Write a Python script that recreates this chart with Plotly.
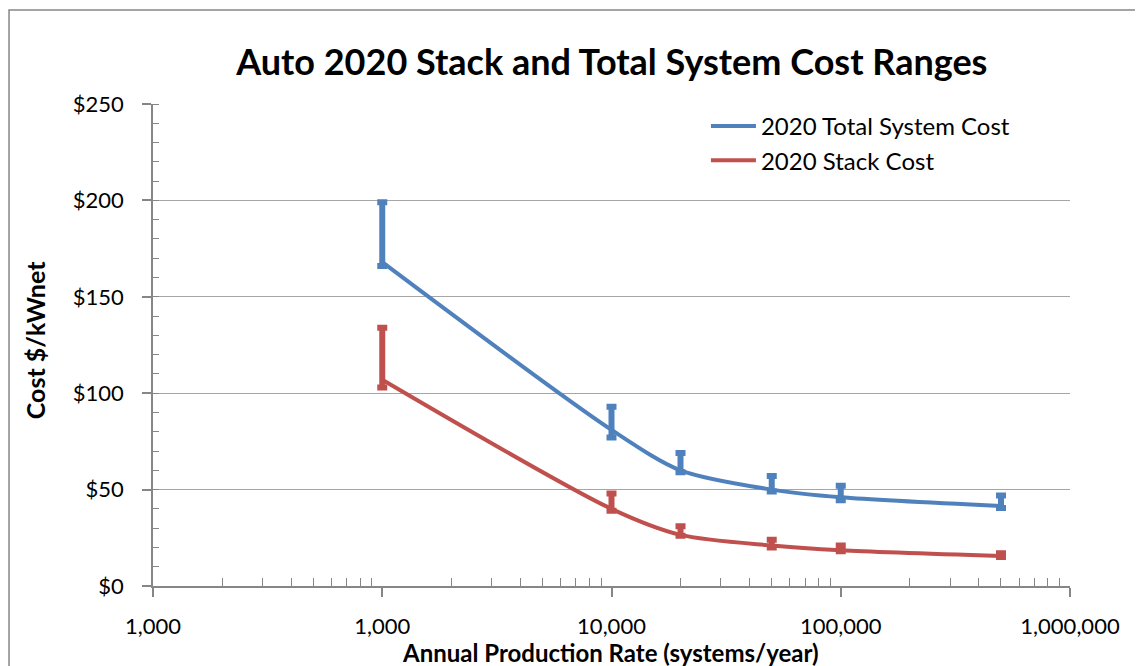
import plotly.graph_objects as go

# Data
production = [1000, 10000, 20000, 50000, 100000, 500000]
total_cost = [168, 81, 60, 50, 46, 41.5]
total_hi = [199, 93, 69, 57, 52, 47]
total_lo = [166, 77, 59, 49, 44.5, 40.5]
stack_cost = [107, 40, 26.5, 21, 18.5, 15.5]
stack_hi = [134, 48, 31, 24, 21, 17]
stack_lo = [103, 39, 26, 20, 18, 15]

x_tickvals = [100, 1000, 10000, 100000, 1000000]
x_ticktext = ["1,000", "1,000", "10,000", "100,000", "1,000,000"]
y_tickvals = [0, 50, 100, 150, 200, 250]
y_ticktext = ["$0", "$50", "$100", "$150", "$200", "$250"]
x_minor = [m * 10 ** d for d in range(2, 6) for m in range(2, 10)]

BLUE = "#4F81BD"
RED = "#C0504D"
FONT = "Lato"
GREY = "#868686"

fig = go.Figure()

def add_series(name, y, hi, lo, color):
    fig.add_trace(go.Scatter(
        x=production, y=y, name=name, mode="lines",
        line=dict(color=color, width=4, shape="spline", smoothing=0.8),
        error_y=dict(type="data", symmetric=False,
                     array=[h - v for h, v in zip(hi, y)],
                     arrayminus=[v - l for v, l in zip(y, lo)],
                     color=color, thickness=6, width=5),
    ))

add_series("2020 Total System Cost", total_cost, total_hi, total_lo, BLUE)
add_series("2020 Stack Cost", stack_cost, stack_hi, stack_lo, RED)

fig.update_layout(
    width=1135, height=658,
    paper_bgcolor="white", plot_bgcolor="white",
    margin=dict(l=145, r=73, t=96, b=80),
    font=dict(family=FONT, color="black", size=22),
    title=dict(text="<b>Auto 2020 Stack and Total System Cost Ranges</b>",
               x=0.532, xanchor="center", y=0.918, yanchor="middle",
               font=dict(size=36, family=FONT, color="black")),
    showlegend=True,
    legend=dict(x=0.603, y=1.0, xanchor="left", yanchor="top",
                bgcolor="rgba(0,0,0,0)", font=dict(size=24, family=FONT),
                itemwidth=45),
    xaxis=dict(type="log", range=[2, 6], tickvals=x_tickvals, ticktext=x_ticktext,
               showgrid=False, showline=True, linecolor=GREY, linewidth=1.5,
               ticks="outside", ticklen=9, tickcolor=GREY, tickwidth=1.5,
               ticklabelstandoff=11, zeroline=False,
               minor=dict(ticks="inside", ticklen=8, tickvals=x_minor,
                          tickcolor=GREY, tickwidth=1.2, showgrid=False)),
    yaxis=dict(range=[0, 250], tickvals=y_tickvals, ticktext=y_ticktext,
               showgrid=True, gridcolor="#A6A6A6", gridwidth=1.2,
               showline=True, linecolor=GREY, linewidth=1.5,
               ticks="outside", ticklen=9, tickcolor=GREY, tickwidth=1.5,
               ticklabelstandoff=14, zeroline=False,
               minor=dict(ticks="inside", ticklen=6, dtick=10, tickcolor=GREY,
                          tickwidth=1.2, showgrid=False)),
    annotations=[
        dict(text="<b>Annual Production Rate (systems/year)</b>", xref="paper", yref="paper",
             x=0.499, y=-0.137, xanchor="center", yanchor="middle", showarrow=False,
             font=dict(size=24, family=FONT)),
        dict(text="<b>Cost $/kWnet</b>", xref="paper", yref="paper",
             x=-0.1287, y=0.51, xanchor="center", yanchor="middle", showarrow=False,
             textangle=-90, font=dict(size=25, family=FONT)),
    ],
    shapes=[dict(type="rect", xref="paper", yref="paper",
                 x0=-0.157, x1=1.0775, y0=-0.2, y1=1.195,
                 line=dict(color=GREY, width=1.5), fillcolor="rgba(0,0,0,0)",
                 layer="below")],
)

fig.write_html("out.html")
